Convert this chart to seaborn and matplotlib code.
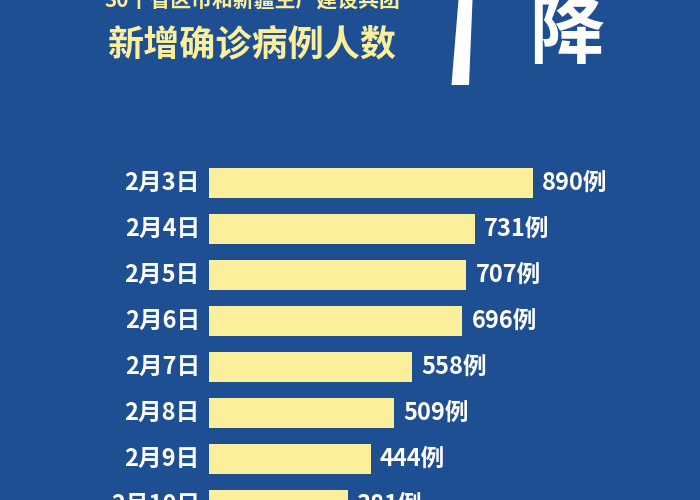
import matplotlib
matplotlib.use("Agg")
import matplotlib.pyplot as plt
import pandas as pd
import seaborn as sns
from matplotlib.patches import Polygon

plt.rcParams["font.family"] = "Noto Sans CJK SC"

dates = ["2月3日", "2月4日", "2月5日", "2月6日", "2月7日", "2月8日", "2月9日", "2月10日"]
cases = [890, 731, 707, 696, 558, 509, 444, 381]

BG = "#1f4f93"
BAR = "#fbef9b"

df = pd.DataFrame({"date": dates, "cases": cases})

fig = plt.figure(figsize=(7, 5), dpi=100, facecolor=BG)
ax = fig.add_axes([0, 0, 1, 1])
ax.set_facecolor(BG)
sns.barplot(data=df, y="date", x="cases", orient="h", color=BAR, width=0.65,
            saturation=1, ax=ax)

px = 0.364  # pixels per case
ax.set_xlim(-209 / px, (700 - 209) / px)
ax.set_ylim((500 - 183) / 46, -183 / 46)
ax.axis("off")

for i, (d, c) in enumerate(zip(dates, cases)):
    ax.text(-25, i, d, ha="right", va="center", color="white",
            fontsize=17, fontweight="black")
    ax.text(c + 25, i, f"{c}例", ha="left", va="center", color="white",
            fontsize=17, fontweight="black")

fig.text(0.36, 1.0, "30个省区市和新疆生产建设兵团", ha="center", va="center",
         color=BAR, fontsize=15, fontweight="black")
fig.text(0.36, 0.91, "新增确诊病例人数", ha="center", va="center",
         color=BAR, fontsize=26, fontweight="black")
# white slanted stroke of the big headline
fig.patches.append(Polygon([(0.655, 1.0), (0.675, 1.0), (0.67, 0.83), (0.645, 0.83)],
                           closed=True, transform=fig.transFigure,
                           facecolor="white", edgecolor="none"))
fig.text(0.81, 0.93, "降", ha="center", va="center", color="white",
         fontsize=54, fontweight="black")

fig.savefig("out.png", dpi=100, facecolor=BG)
